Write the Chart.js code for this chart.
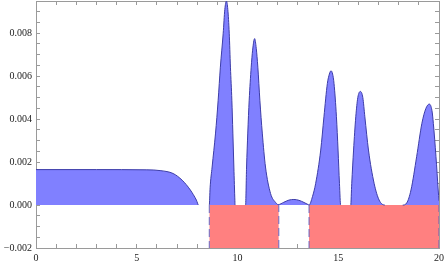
<!DOCTYPE html>
<html>
<head>
<meta charset="utf-8">
<script src="https://cdn.jsdelivr.net/npm/chart.js@4/dist/chart.umd.min.js"></script>
<style>
  body { margin: 0; background: #fff; }
  canvas { display: block; }
</style>
</head>
<body>
<canvas id="grafico" width="444" height="265"></canvas>
<script>
// Curva azul (densidade)
const curvaX = [0, 3, 5.5, 6.2, 6.8, 7.25, 7.66, 7.96, 8.07,
  8.6, 8.64, 8.74, 8.91, 9.04, 9.15, 9.29, 9.37, 9.45, 9.52, 9.59, 9.65, 9.72, 9.77, 9.82, 9.87, 9.88,
  10.40, 10.45, 10.51, 10.58, 10.68, 10.75, 10.85, 10.93, 11.01, 11.11, 11.23, 11.39, 11.64, 11.89,
  12.02, 12.3, 12.55, 12.8, 13.05, 13.3, 13.53,
  13.55, 13.72, 13.88, 14.13, 14.29, 14.46, 14.56, 14.64, 14.72, 14.79, 14.91, 14.99, 15.06, 15.12,
  15.62, 15.67, 15.76, 15.87, 15.97, 16.10, 16.22, 16.32, 16.50, 16.78, 17.03, 17.31,
  18.2, 18.4, 18.61, 18.89, 19.15, 19.35, 19.52, 19.65, 19.72, 19.85, 19.96, 20];
const curvaY = [0.00165, 0.00165, 0.00164, 0.00160, 0.00147, 0.00116, 0.00070, 0.00023, 0,
  0, 0.0008, 0.00177, 0.00335, 0.00488, 0.00642, 0.0080, 0.0091, 0.0095, 0.0091, 0.0080, 0.00642, 0.00488, 0.00335, 0.00177, 0.0002, 0,
  0, 0.00177, 0.00335, 0.00488, 0.00642, 0.00721, 0.00775, 0.0073, 0.00642, 0.00488, 0.00335, 0.00177, 0.00054, 0.00012,
  0.00002, 0.00013, 0.00023, 0.00026, 0.00022, 0.00012, 0.00001,
  0, 0.00039, 0.00101, 0.00256, 0.00411, 0.00566, 0.0061, 0.00625, 0.0061, 0.00566, 0.00411, 0.00256, 0.00101, 0,
  0, 0.00101, 0.00256, 0.00411, 0.0050, 0.00529, 0.0050, 0.00411, 0.00256, 0.00101, 0.00023, 0,
  0, 0.0001, 0.0007, 0.00225, 0.0038, 0.0045, 0.0047, 0.0044, 0.0038, 0.00225, 0.0007, 0.0002];

// Faixas vermelhas (inicio, fim, fundo)
const faixaInicio = [8.6, 13.55];
const faixaFim = [12.05, 20];
const faixaFundo = -0.002;

// Marcas dos eixos
const ticksX = [0,1,2,3,4,5,6,7,8,9,10,11,12,13,14,15,16,17,18,19,20];
const ticksY = [-0.002,-0.0015,-0.001,-0.0005,0,0.0005,0.001,0.0015,0.002,0.0025,0.003,0.0035,
  0.004,0.0045,0.005,0.0055,0.006,0.0065,0.007,0.0075,0.008,0.0085,0.009];

const corFrame = '#9a9a9a';
const fonte = { family: 'Liberation Serif', size: 10 };

// Montando os datasets
const datasets = [];
datasets.push({
  data: curvaX.map((x, i) => ({ x: x, y: curvaY[i] })),
  borderColor: '#3c3ca8',
  borderWidth: 1,
  backgroundColor: 'rgb(128,128,255)',
  fill: 'origin',
  pointRadius: 0,
  cubicInterpolationMode: 'monotone',
  segment: {
    // nao desenha a linha onde a curva fica em zero
    borderColor: ctx => (ctx.p0.parsed.y === 0 && ctx.p1.parsed.y === 0) ? 'rgba(0,0,0,0)' : undefined
  }
});
faixaInicio.forEach((ini, k) => {
  const fim = faixaFim[k];
  datasets.push({
    data: [{ x: ini, y: 0 }, { x: ini, y: faixaFundo }, { x: fim, y: faixaFundo }, { x: fim, y: 0 }],
    borderColor: 'rgba(90,90,190,0.9)',
    borderWidth: 1,
    borderDash: [8, 4],
    backgroundColor: 'rgb(255,128,128)',
    fill: 'origin',
    pointRadius: 0,
    tension: 0,
    segment: {
      borderColor: ctx => ctx.p0DataIndex === 1 ? 'rgba(0,0,0,0)' : undefined
    }
  });
});

// Eixo com marcas para dentro
function eixo(pos, min, max, lista, mostrar, tamanho) {
  const horizontal = pos === 'top' || pos === 'bottom';
  return {
    type: 'linear',
    position: pos,
    min: min,
    max: max,
    grid: { drawOnChartArea: false, drawTicks: true, tickLength: -4, color: corFrame, tickColor: corFrame },
    border: { display: true, color: corFrame, width: 1 },
    afterBuildTicks: s => { s.ticks = lista.map(v => ({ value: v })); },
    afterFit: s => {
      if (horizontal) s.height = tamanho; else s.width = tamanho;
      // sem espaco extra para os rotulos das pontas
      s.paddingTop = 0; s.paddingBottom = 0; s.paddingLeft = 0; s.paddingRight = 0;
    },
    ticks: {
      display: mostrar,
      autoSkip: false,
      maxRotation: 0,
      color: '#222',
      font: fonte,
      padding: horizontal ? 8 : 8,
      callback: horizontal
        ? v => (v % 5 === 0 ? String(v) : '')
        : v => {
            const r = v / 0.002;
            if (Math.abs(r - Math.round(r)) > 1e-6) return '';
            return (v < 0 ? '\u2212' : '') + Math.abs(v).toFixed(3);
          }
    }
  };
}

const grafico = new Chart(document.getElementById('grafico').getContext('2d'), {
  type: 'line',
  data: { datasets: datasets },
  options: {
    responsive: false,
    animation: false,
    layout: { padding: 0 },
    plugins: { legend: { display: false }, tooltip: { enabled: false } },
    scales: {
      x: eixo('bottom', 0, 20, ticksX, true, 17),
      x2: eixo('top', 0, 20, ticksX, false, 1),
      y: eixo('left', -0.002, 0.0095, ticksY, true, 36),
      y2: eixo('right', -0.002, 0.0095, ticksY, false, 5)
    }
  }
});
</script>
</body>
</html>
